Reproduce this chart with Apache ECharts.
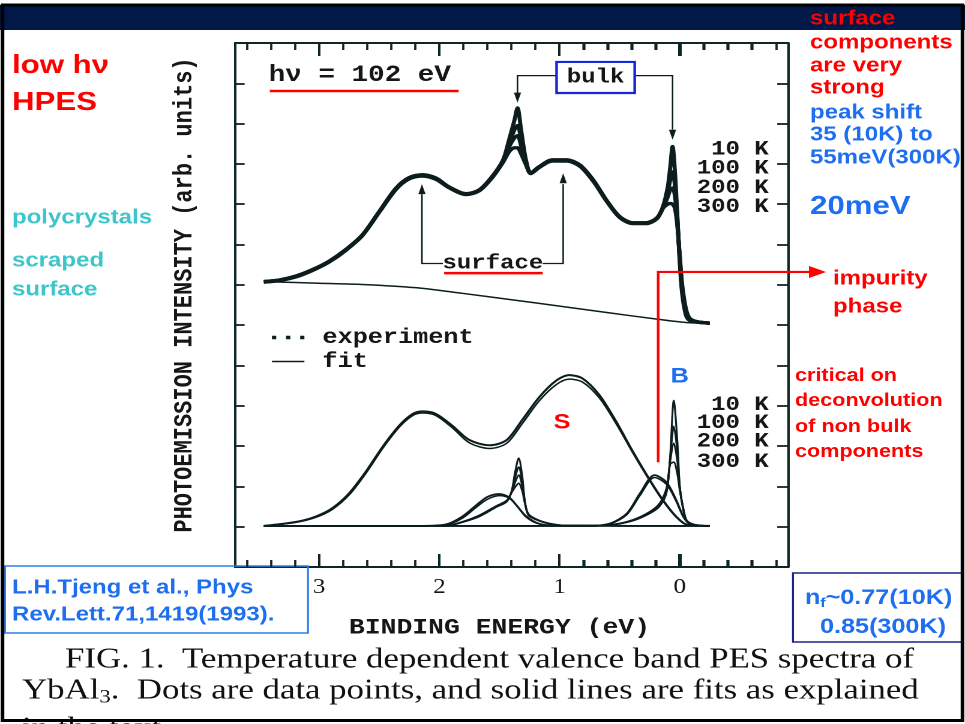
<!DOCTYPE html>
<html>
<head>
<meta charset="utf-8">
<title>YbAl3 valence band PES</title>
<script src="https://cdn.jsdelivr.net/npm/echarts@6/dist/echarts.min.js"></script>
<style>
  html, body { margin: 0; padding: 0; background: #fff; overflow: hidden; }
  /* the slide is laid out 804px wide and widened to the full 965px page */
  #chart { width: 804px; height: 724px; transform: scaleX(1.2002); transform-origin: 0 0; }
</style>
</head>
<body>
<div id="chart"></div>
<script>
// ---- spectra (binding energy in eV, intensity in arb. units) ----
const topEnergy = [3.46, 3.33, 3.19, 3.06, 2.92, 2.78, 2.64, 2.50, 2.36, 2.25, 2.14, 2.03, 1.92, 1.78, 1.67, 1.56,
  1.47, 1.42, 1.375, 1.35, 1.32, 1.28, 1.24, 1.17, 1.06, 0.94, 0.83, 0.72, 0.61, 0.50, 0.39, 0.28, 0.19, 0.14,
  0.10, 0.08, 0.06, 0.04, 0.02, 0.0, -0.02, -0.05, -0.08, -0.14, -0.25];
const spec10K = [7.08, 7.12, 7.22, 7.37, 7.58, 7.87, 8.24, 8.82, 9.40, 9.66, 9.73, 9.65, 9.43, 9.26, 9.35, 9.69,
  10.10, 10.60, 11.09, 11.39, 10.84, 10.10, 9.78, 9.93, 10.10, 10.10, 9.97, 9.60, 9.10, 8.69, 8.54, 8.54, 8.66, 8.94,
  9.43, 9.90, 10.43, 9.78, 8.69, 7.54, 6.78, 6.26, 6.12, 6.08, 6.05];
const spec100K = [7.08, 7.12, 7.22, 7.37, 7.58, 7.87, 8.24, 8.82, 9.40, 9.66, 9.73, 9.65, 9.43, 9.26, 9.35, 9.69,
  10.08, 10.50, 10.85, 10.95, 10.62, 10.05, 9.78, 9.93, 10.10, 10.10, 9.97, 9.60, 9.10, 8.69, 8.54, 8.54, 8.66, 8.92,
  9.30, 9.60, 9.80, 9.45, 8.62, 7.60, 6.85, 6.30, 6.13, 6.08, 6.05];
const spec200K = [7.07, 7.11, 7.21, 7.36, 7.57, 7.86, 8.23, 8.81, 9.38, 9.64, 9.71, 9.63, 9.42, 9.25, 9.34, 9.67,
  10.06, 10.42, 10.65, 10.70, 10.45, 10.02, 9.77, 9.92, 10.08, 10.08, 9.95, 9.58, 9.09, 8.68, 8.53, 8.53, 8.65, 8.90,
  9.18, 9.35, 9.40, 9.20, 8.55, 7.66, 6.92, 6.36, 6.14, 6.08, 6.05];
const spec300K = [7.07, 7.11, 7.20, 7.35, 7.56, 7.85, 8.22, 8.80, 9.37, 9.63, 9.70, 9.62, 9.41, 9.24, 9.33, 9.66,
  10.04, 10.30, 10.40, 10.40, 10.25, 9.98, 9.76, 9.91, 10.07, 10.07, 9.94, 9.57, 9.08, 8.67, 8.52, 8.52, 8.64, 8.90,
  9.00, 9.02, 9.00, 8.90, 8.45, 7.72, 7.00, 6.42, 6.18, 6.09, 6.05];

const backgroundEnergy = [3.46, 3.0, 2.64, 2.2, 1.81, 1.4, 0.97, 0.6, 0.19, -0.08, -0.25];
const backgroundIntensity = [7.08, 7.04, 7.01, 6.93, 6.79, 6.63, 6.46, 6.31, 6.15, 6.06, 6.05];

// ---- fit components ----
const surfaceEnergy = [3.46, 3.19, 3.03, 2.89, 2.75, 2.61, 2.47, 2.33, 2.22, 2.14, 2.03, 1.89, 1.75, 1.58, 1.44,
  1.31, 1.17, 1.03, 0.92, 0.81, 0.67, 0.53, 0.39, 0.25, 0.14, 0.03, -0.06, -0.25];
const surface10K = [1.02, 1.12, 1.25, 1.46, 1.83, 2.37, 2.99, 3.52, 3.80, 3.86, 3.80, 3.50, 3.15, 3.02, 3.15,
  3.65, 4.21, 4.62, 4.76, 4.68, 4.27, 3.61, 2.86, 2.16, 1.66, 1.25, 1.05, 1.02];
const surface300K = [1.02, 1.11, 1.23, 1.43, 1.79, 2.33, 2.95, 3.48, 3.76, 3.82, 3.76, 3.45, 3.08, 2.94, 3.07,
  3.56, 4.12, 4.52, 4.66, 4.59, 4.20, 3.56, 2.83, 2.14, 1.64, 1.24, 1.05, 1.02];

const shoulder52Energy = [3.46, 2.15, 1.94, 1.81, 1.69, 1.60, 1.50, 1.42, 1.35, 1.28, 1.19, 1.08, 0.90, -0.25];
const shoulder52_10K = [1.02, 1.02, 1.06, 1.25, 1.54, 1.74, 1.81, 1.73, 1.50, 1.25, 1.09, 1.03, 1.02, 1.02];
const shoulder52_300K = [1.02, 1.02, 1.05, 1.21, 1.49, 1.68, 1.77, 1.71, 1.50, 1.27, 1.10, 1.03, 1.02, 1.02];

const bulk52Energy = [3.46, 1.95, 1.80, 1.67, 1.53, 1.44, 1.40, 1.37, 1.34, 1.31, 1.29, 1.26, 1.19, 1.08, 0.94, -0.25];
const bulk52_10K = [1.02, 1.02, 1.12, 1.25, 1.48, 1.62, 1.87, 2.35, 2.70, 2.24, 1.66, 1.29, 1.17, 1.07, 1.03, 1.02];
const bulk52_100K = [1.02, 1.02, 1.12, 1.26, 1.49, 1.63, 1.86, 2.22, 2.48, 2.12, 1.64, 1.30, 1.17, 1.07, 1.03, 1.02];
const bulk52_200K = [1.02, 1.02, 1.13, 1.27, 1.50, 1.64, 1.85, 2.10, 2.28, 2.00, 1.62, 1.31, 1.18, 1.07, 1.03, 1.02];
const bulk52_300K = [1.02, 1.02, 1.13, 1.28, 1.51, 1.65, 1.84, 1.98, 2.08, 1.88, 1.60, 1.32, 1.18, 1.08, 1.03, 1.02];

const shoulder72Energy = [3.46, 0.75, 0.58, 0.44, 0.33, 0.21, 0.11, 0.03, -0.03, -0.08, -0.17, -0.25];
const shoulder72_10K = [1.02, 1.02, 1.08, 1.33, 1.83, 2.28, 2.10, 1.66, 1.25, 1.08, 1.03, 1.02];
const shoulder72_300K = [1.02, 1.02, 1.07, 1.30, 1.78, 2.22, 2.05, 1.63, 1.24, 1.08, 1.03, 1.02];

const bulk72Energy = [3.46, 0.75, 0.56, 0.39, 0.25, 0.17, 0.11, 0.08, 0.05, 0.02, 0.0, -0.03, -0.06, -0.14, -0.25];
const bulk72_10K = [1.02, 1.02, 1.05, 1.15, 1.33, 1.50, 1.85, 2.75, 4.13, 3.10, 2.00, 1.41, 1.12, 1.03, 1.02];
const bulk72_100K = [1.02, 1.02, 1.05, 1.15, 1.34, 1.52, 1.88, 2.70, 3.49, 2.85, 1.98, 1.42, 1.13, 1.03, 1.02];
const bulk72_200K = [1.02, 1.02, 1.05, 1.16, 1.35, 1.54, 1.92, 2.62, 3.07, 2.62, 1.95, 1.43, 1.14, 1.03, 1.02];
const bulk72_300K = [1.02, 1.02, 1.05, 1.17, 1.37, 1.57, 1.96, 2.55, 2.60, 2.30, 1.90, 1.44, 1.15, 1.04, 1.02];

const temperatures = ['10 K', '100 K', '200 K', '300 K'];
// energy window of the frame and of the tick rows (eV)
const frameRange = [-0.9, 3.7];
const minorRange = [-0.8, 3.6];   // minor ticks every 0.2 eV
const majorRange = [0, 3];        // labelled ticks every 1 eV
const majorTicks = [3, 2, 1, 0];
const minorTicks = [3.6, 3.4, 3.2, 2.8, 2.6, 2.4, 2.2, 1.8, 1.6, 1.4, 1.2, 0.8, 0.6, 0.4, 0.2, -0.2, -0.4, -0.6, -0.8];

// ---- styling ----
const WIDE = 965 / 804;
const X = v => v / WIDE;            // page x -> layout x
const INK = '#0d1d1d';
const FRAME = '#0f2626';
const TYPE = "'Liberation Mono', 'Courier New', monospace";
const SANS = "'Liberation Sans', Arial, sans-serif";
const SERIF = "'Liberation Serif', 'Times New Roman', serif";
const RED = '#ff0000';
const BLUE = '#1e6ef0';
const CYAN = '#3cc6cc';

const zip = (xs, ys) => xs.map((x, i) => [x, ys[i]]);
function curve(name, xs, ys, width) {
  return {
    type: 'line', name, data: zip(xs, ys), smooth: 0.3, showSymbol: false, symbol: 'none',
    xAxisIndex: 0, yAxisIndex: 0, silent: true,
    lineStyle: { color: INK, width }, itemStyle: { color: INK }
  };
}

const series = [
  curve('experiment', topEnergy, spec10K, 3.4),
  curve('experiment', topEnergy, spec100K, 3.4),
  curve('experiment', topEnergy, spec200K, 3.4),
  curve('experiment', topEnergy, spec300K, 3.4),
  curve('fit', backgroundEnergy, backgroundIntensity, 1.5),
  curve('fit', surfaceEnergy, surface10K, 2),
  curve('fit', surfaceEnergy, surface300K, 1.5),
  curve('fit', shoulder52Energy, shoulder52_10K, 1.8),
  curve('fit', shoulder52Energy, shoulder52_300K, 1.5),
  curve('fit', bulk52Energy, bulk52_10K, 1.6),
  curve('fit', bulk52Energy, bulk52_100K, 1.6),
  curve('fit', bulk52Energy, bulk52_200K, 1.6),
  curve('fit', bulk52Energy, bulk52_300K, 1.6),
  curve('fit', shoulder72Energy, shoulder72_10K, 1.8),
  curve('fit', shoulder72Energy, shoulder72_300K, 1.5),
  curve('fit', bulk72Energy, bulk72_10K, 1.6),
  curve('fit', bulk72Energy, bulk72_100K, 1.6),
  curve('fit', bulk72Energy, bulk72_200K, 1.6),
  curve('fit', bulk72Energy, bulk72_300K, 1.6)
];

// frame geometry; the tick rows sit on grids that cover only their own energy span
const frameLeft = X(235), frameWidth = X(788) - X(235), frameTop = 43, frameHeight = 524;
const ePx = e => frameLeft + (frameRange[1] - e) / (frameRange[1] - frameRange[0]) * frameWidth;
const spanGrid = r => ({ left: ePx(r[1]), width: ePx(r[0]) - ePx(r[1]), top: frameTop, height: frameHeight });

const frameLine = { show: true, onZero: false, lineStyle: { color: FRAME, width: 2 } };
const noLine = { show: false };
const tickStyle = (len, w) => ({ show: true, inside: true, length: len, lineStyle: { color: FRAME, width: w } });
const yCommon = { type: 'value', min: 0, max: 13, interval: 1, splitLine: { show: false }, axisLabel: { show: false } };
function xAx(grid, pos, range, interval, extra) {
  return Object.assign({
    type: 'value', gridIndex: grid, position: pos, min: range[0], max: range[1], interval, inverse: true,
    splitLine: { show: false }, axisLabel: { show: false }
  }, extra);
}

const option = {
  animation: false,
  backgroundColor: '#ffffff',
  grid: [
    { left: frameLeft, width: frameWidth, top: frameTop, height: frameHeight },
    spanGrid(minorRange),
    spanGrid(majorRange)
  ],
  xAxis: [
    xAx(0, 'bottom', frameRange, 1, { axisLine: frameLine, axisTick: { show: false } }),
    xAx(0, 'top', frameRange, 1, { axisLine: frameLine, axisTick: { show: false } }),
    xAx(1, 'bottom', minorRange, 0.2, { axisLine: noLine, axisTick: tickStyle(7, 1.6) }),
    xAx(1, 'top', minorRange, 0.2, { axisLine: noLine, axisTick: tickStyle(7, 1.6) }),
    xAx(2, 'bottom', majorRange, 1, {
      axisLine: noLine, axisTick: tickStyle(13, 2),
      axisLabel: { show: true, showMinLabel: true, showMaxLabel: true, margin: 10,
                   fontFamily: SERIF, fontSize: 21, color: '#161616' },
      name: 'BINDING ENERGY (eV)', nameLocation: 'middle', nameGap: 50,
      nameTextStyle: { fontFamily: TYPE, fontWeight: 'bold', fontSize: 22, color: '#161616' }
    }),
    xAx(2, 'top', majorRange, 1, { axisLine: noLine, axisTick: tickStyle(13, 2) })
  ],
  yAxis: [
    Object.assign({}, yCommon, {
      gridIndex: 0, position: 'left', axisLine: frameLine, axisTick: tickStyle(8, 1.8),
      name: 'PHOTOEMISSION INTENSITY (arb. units)', nameLocation: 'middle', nameGap: 31, nameRotate: 90,
      nameTextStyle: { fontFamily: TYPE, fontWeight: 'bold', fontSize: 22, color: '#161616', padding: [0, 0, 0, 20] }
    }),
    Object.assign({}, yCommon, { gridIndex: 0, position: 'right', axisLine: frameLine, axisTick: tickStyle(9, 1.8) }),
    Object.assign({}, yCommon, { gridIndex: 1, show: false }),
    Object.assign({}, yCommon, { gridIndex: 2, show: false })
  ],
  legend: {
    orient: 'vertical', left: X(266), top: 322, itemGap: 3, itemWidth: 27, itemHeight: 6,
    selectedMode: false, symbolKeepAspect: true,
    data: [
      { name: 'experiment', icon: 'path://M0,0h2.4v2.4h-2.4zM8,0h2.4v2.4h-2.4zM16,0h2.4v2.4h-2.4z' },
      { name: 'fit', icon: 'path://M0,0h26v1.4h-26z' }
    ],
    textStyle: { fontFamily: TYPE, fontWeight: 'bold', fontSize: 21, color: '#161616', padding: [0, 0, 0, 10] }
  },
  series
};

const chart = echarts.init(document.getElementById('chart'), null, { renderer: 'canvas', devicePixelRatio: 2 });
chart.setOption(option);

// ---- annotations ----
const P = (e, v) => chart.convertToPixel({ gridIndex: 0 }, [e, v]);

function text(t, x, y, font, fill, align) {
  return {
    type: 'text', x, y, z: 60, silent: true,
    style: { text: t, font, fill, align: align || 'left', verticalAlign: 'middle',
             textAlign: align || 'left', textVerticalAlign: 'middle' }
  };
}
const pageText = (t, x, y, font, fill, align) => text(t, X(x), y, font, fill, align);
function dataText(t, e, v, font, fill, align) {
  const p = P(e, v);
  return text(t, p[0], p[1], font, fill, align);
}
function poly(points, stroke, width, z) {
  return { type: 'polyline', z: z || 55, silent: true, shape: { points }, style: { stroke, lineWidth: width, fill: null } };
}
const dataPoly = (pts, stroke, width) => poly(pts.map(p => P(p[0], p[1])), stroke, width);
function head(e, v, dir) {
  const p = P(e, v);
  const s = dir === 'down' ? -1 : 1;
  return { type: 'polygon', z: 55, silent: true,
    shape: { points: [[p[0] - 3, p[1] + s * 10], p, [p[0] + 3, p[1] + s * 10]] }, style: { fill: INK } };
}
function box(x0, y0, x1, y1, stroke, width) {
  return { type: 'rect', z: 58, silent: true, shape: { x: x0, y: y0, width: x1 - x0, height: y1 - y0 },
    style: { fill: null, stroke, lineWidth: width } };
}

const A = `bold 20px ${SANS}`;
const T20 = `bold 20px ${TYPE}`;
const graphics = [];

// title band
graphics.push({ type: 'rect', z: 1, silent: true, shape: { x: 0, y: 5, width: X(965), height: 25 }, style: { fill: '#021848' } });

// energy tick marks along the top and bottom edges of the frame
function edgeTicks(values, len, width) {
  values.forEach(e => {
    const pb = P(e, 0), pt = P(e, 13);
    const x = Math.round(pb[0]);
    graphics.push(poly([[x, pb[1]], [x, pb[1] - len]], FRAME, width, 95));
    graphics.push(poly([[x, pt[1]], [x, pt[1] + len]], FRAME, width, 95));
  });
}
edgeTicks(majorTicks, 13, 2);
edgeTicks(minorTicks, 7, 1.6);

// figure labels inside the plot
graphics.push(dataText('hν = 102 eV', 3.42, 12.2, `bold 23px ${TYPE}`, '#161616'));
graphics.push(dataPoly([[3.41, 11.81], [1.84, 11.81]], RED, 2.5));

const b0 = P(1.025, 12.53), b1 = P(0.375, 11.76);
graphics.push(box(b0[0], b0[1], b1[0], b1[1], '#1428d8', 2.2));
graphics.push(dataText('bulk', 0.70, 12.15, T20, '#161616', 'center'));
graphics.push(dataPoly([[1.025, 12.19], [1.35, 12.19], [1.35, 11.75]], INK, 1.3));
graphics.push(head(1.35, 11.52, 'down'));
graphics.push(dataPoly([[0.375, 12.19], [0.06, 12.19], [0.06, 10.85]], INK, 1.3));
graphics.push(head(0.06, 10.6, 'down'));

graphics.push(dataText('surface', 1.555, 7.53, T20, '#161616', 'center'));
graphics.push(dataPoly([[1.96, 7.29], [1.14, 7.29]], RED, 2.5));
graphics.push(dataPoly([[1.97, 7.53], [2.145, 7.53], [2.145, 9.25]], INK, 1.3));
graphics.push(head(2.145, 9.50, 'up'));
graphics.push(dataPoly([[1.14, 7.53], [0.97, 7.53], [0.97, 9.5]], INK, 1.3));
graphics.push(head(0.97, 9.77, 'up'));

const topLabelY = [10.36, 9.89, 9.40, 8.93];
const lowLabelY = [4.02, 3.57, 3.11, 2.61];
temperatures.forEach((t, i) => {
  graphics.push(dataText(t, -0.74, topLabelY[i], T20, '#161616', 'right'));
  graphics.push(dataText(t, -0.74, lowLabelY[i], T20, '#161616', 'right'));
});

graphics.push(dataText('B', 0.0, 4.72, `bold 21px ${SANS}`, BLUE, 'center'));
graphics.push(dataText('S', 0.98, 3.58, `bold 21px ${SANS}`, RED, 'center'));

// impurity-phase pointer
const c0 = P(0.18, 2.6), c1 = P(0.18, 7.32);
graphics.push(poly([c0, c1, [X(812), c1[1]]], RED, 2.2));
graphics.push({ type: 'polygon', z: 56, silent: true,
  shape: { points: [[X(809), c1[1] - 6], [X(826), c1[1]], [X(809), c1[1] + 6]] }, style: { fill: RED } });

// slide notes, right column
[['surface', 19], ['components', 43], ['are very', 66], ['strong', 88]].forEach(([t, y]) =>
  graphics.push(pageText(t, 810, y, A, RED)));
[['peak shift', 113], ['35 (10K) to', 135], ['55meV(300K)', 158]].forEach(([t, y]) =>
  graphics.push(pageText(t, 810, y, A, BLUE)));
graphics.push(pageText('20meV', 810, 207, `bold 26px ${SANS}`, BLUE));
graphics.push(pageText('impurity', 833, 279, A, RED));
graphics.push(pageText('phase', 833, 307, A, RED));
[['critical on', 376], ['deconvolution', 401], ['of non bulk', 427], ['components', 452]].forEach(([t, y]) =>
  graphics.push(pageText(t, 795, y, `bold 18px ${SANS}`, RED)));

// slide notes, left column
graphics.push(pageText('low hν', 12, 66, `bold 26px ${SANS}`, RED));
graphics.push(pageText('HPES', 12, 103, `bold 26px ${SANS}`, RED));
graphics.push(pageText('polycrystals', 12, 218, A, CYAN));
graphics.push(pageText('scraped', 12, 261, A, CYAN));
graphics.push(pageText('surface', 12, 290, A, CYAN));

// reference and n_f boxes
graphics.push(box(X(5), 566, X(308), 633, '#2f7de6', 1.6));
graphics.push(pageText('L.H.Tjeng et al., Phys', 12, 588, A, BLUE));
graphics.push(pageText('Rev.Lett.71,1419(1993).', 12, 615, A, BLUE));
graphics.push(box(X(793), 573, X(963), 642, '#20208a', 1.6));
graphics.push({
  type: 'text', x: X(805), y: 598, z: 60, silent: true,
  style: {
    text: '{a|n}{s|f}{a|~0.77(10K)}', align: 'left', verticalAlign: 'middle', textAlign: 'left', textVerticalAlign: 'middle',
    rich: {
      a: { font: `bold 21px ${SANS}`, fill: BLUE, color: BLUE, lineHeight: 24, verticalAlign: 'middle' },
      s: { font: `bold 13px ${SANS}`, fill: BLUE, color: BLUE, lineHeight: 8, verticalAlign: 'bottom' }
    }
  }
});
graphics.push(pageText('0.85(300K)', 820, 627, `bold 21px ${SANS}`, BLUE));

// figure caption
const CAP = `29px ${SERIF}`;
graphics.push(pageText('FIG. 1.  Temperature dependent valence band PES spectra of', 65, 660, CAP, '#111'));
graphics.push({
  type: 'text', x: X(22), y: 691, z: 60, silent: true,
  style: {
    text: '{t|YbAl}{u|3}{t|.  Dots are data points, and solid lines are fits as explained}',
    align: 'left', verticalAlign: 'middle', textAlign: 'left', textVerticalAlign: 'middle',
    rich: {
      t: { font: CAP, fill: '#111', color: '#111', lineHeight: 32, verticalAlign: 'middle' },
      u: { font: `19px ${SERIF}`, fill: '#111', color: '#111', lineHeight: 10, verticalAlign: 'bottom' }
    }
  }
});
graphics.push(pageText('in the text.', 22, 729, CAP, '#111'));

// outer slide border
graphics.push({ type: 'rect', z: 90, silent: true,
  shape: { x: X(2.5), y: 5, width: X(960), height: 715.5 }, style: { fill: null, stroke: '#000', lineWidth: 3 } });

chart.setOption({ graphic: { elements: graphics } });
</script>
</body>
</html>
